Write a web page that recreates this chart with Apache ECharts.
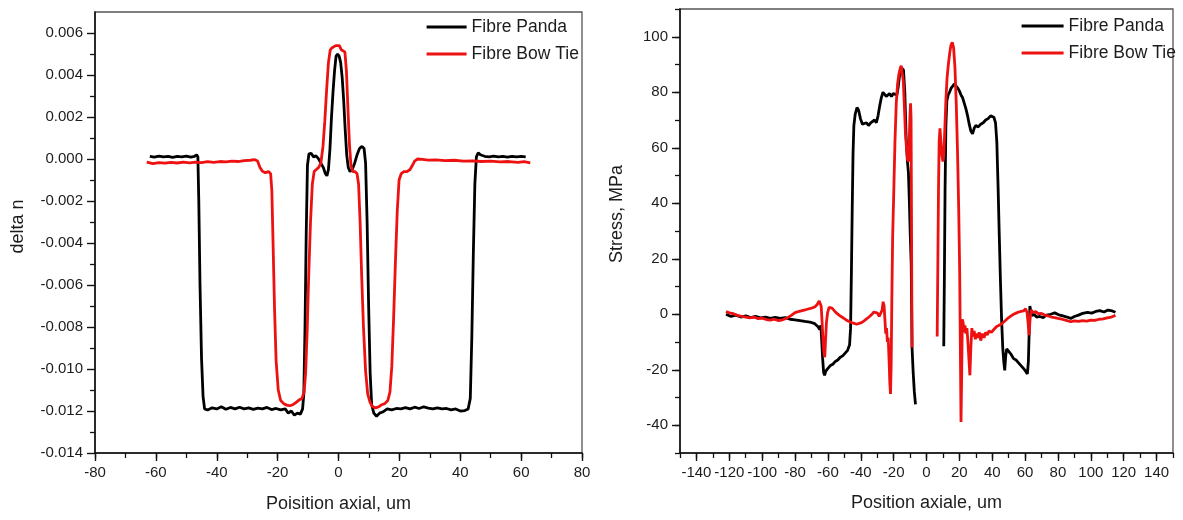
<!DOCTYPE html>
<html><head><meta charset="utf-8">
<script src="https://cdn.jsdelivr.net/npm/echarts@6/dist/echarts.min.js"></script>
<style>html,body{margin:0;padding:0;background:#fff}#c{width:1183px;height:520px}</style>
</head><body><div id="c"></div>
<script>
// ---------- Left chart: delta n vs axial position ----------
const leftXTicks = [-80,-60,-40,-20,0,20,40,60,80];
const leftYTicks = [-0.014,-0.012,-0.010,-0.008,-0.006,-0.004,-0.002,0.000,0.002,0.004,0.006];
const pandaDeltaN = [
[-62,0.00012],[-60.5,0.00009],[-59,0.00014],[-57.5,0.0001],[-56,0.00013],[-54.5,0.00008],[-53,0.00012],[-51.5,0.0001],[-50,0.00014],[-48.5,0.00009],[-47.3,0.00013],[-46.6,0.0002],[-46.2,0.0001],
[-45.9,-0.002],[-45.5,-0.006],[-45,-0.0095],[-44.5,-0.0113],[-44,-0.0119],[-43,-0.01195],
[-41.5,-0.01185],[-40,-0.0119],[-38.5,-0.0118],[-37,-0.01192],[-35.5,-0.01183],[-34,-0.0119],[-32.5,-0.01182],[-31,-0.0119],[-29.5,-0.01185],[-28,-0.01192],[-26.5,-0.01186],[-25,-0.0119],[-23.5,-0.01183],[-22,-0.01193],[-20.5,-0.01188],[-19,-0.01195],[-17.5,-0.0119],[-16.5,-0.0121],[-15.5,-0.012],[-14.5,-0.0122],[-13.5,-0.0121],[-12.5,-0.01215],[-11.8,-0.0119],
[-11.4,-0.0112],[-11,-0.008],[-10.6,-0.0035],[-10.2,-0.0003],[-9.7,0.00025],[-9,0.00027],[-8.2,0.0001],[-7.4,0.00015],[-6.6,0.00002],[-5.8,-0.0002],[-5,-0.0004],[-4.3,-0.0007],[-3.8,-0.0008],[-3.3,-0.0005],[-2.8,0.0005],[-2.3,0.002],[-1.8,0.0032],[-1.3,0.0042],[-0.8,0.0049],[-0.3,0.0050],[0.2,0.0049],[0.7,0.0046],[1.2,0.0039],[1.7,0.0028],[2.2,0.0014],[2.7,0.0002],[3.2,-0.0004],[3.8,-0.0006],[4.5,-0.0005],[5.3,-0.0002],[6.1,0.0002],[6.9,0.0005],[7.7,0.0006],[8.4,0.0005],[8.9,-0.0002],[9.4,-0.003],[9.9,-0.007],[10.4,-0.0102],[10.9,-0.0117],[11.6,-0.0121],[12.5,-0.01225],[13.5,-0.0121],[14.5,-0.01205],[16,-0.0119],[17.5,-0.01195],[19,-0.01188],[20.5,-0.0119],[22,-0.01184],[23.5,-0.0119],[25,-0.01182],[26.5,-0.01188],[28,-0.0118],[29.5,-0.01186],[31,-0.0119],[32.5,-0.01185],[34,-0.0119],[35.5,-0.01188],[37,-0.01195],[38.5,-0.0119],[40,-0.012],[41.5,-0.01198],[42.6,-0.0119],
[43.3,-0.0114],[43.8,-0.0085],[44.3,-0.0045],[44.8,-0.0012],[45.3,0.0001],[45.9,0.0003],[46.6,0.0002],[48,0.00013],[49.5,0.0001],[51,0.00014],[52.5,0.0001],[54,0.00012],[55.5,0.00009],[57,0.00013],[58.5,0.0001],[60,0.00012],[61.5,0.0001]
];
const bowtieDeltaN = [
[-63,-0.00015],[-61,-0.00022],[-59,-0.00017],[-57,-0.0002],[-55,-0.00016],[-53,-0.00019],[-51,-0.00015],[-49,-0.00018],[-47,-0.00015],[-45,-0.00017],[-43,-0.00013],[-41,-0.00016],[-39,-0.00012],[-37,-0.00014],[-35,-0.0001],[-33,-0.00012],[-31,-0.00008],[-29,-0.00006],[-27.5,-0.00003],[-26.6,-0.0001],[-25.8,-0.0004],[-25,-0.00058],[-24,-0.00065],[-23,-0.0006],[-22.3,-0.0007],
[-21.9,-0.0015],[-21.5,-0.004],[-21,-0.0072],[-20.5,-0.0096],[-19.8,-0.011],[-19,-0.0115],[-18,-0.01165],[-17,-0.01172],[-16,-0.01175],[-15,-0.0117],[-14,-0.0116],[-13,-0.01148],[-12,-0.0114],[-11.3,-0.0111],[-10.8,-0.0102],[-10.3,-0.0082],[-9.8,-0.0056],[-9.2,-0.003],[-8.6,-0.0012],[-8,-0.0006],[-7.3,-0.0005],[-6.5,-0.0004],[-5.8,-0.0002],[-5.1,0.0006],[-4.5,0.0018],[-3.9,0.0033],[-3.3,0.0046],[-2.7,0.0052],[-2.1,0.0053],[-1.5,0.0053],[-0.9,0.0054],[-0.3,0.00535],[0.3,0.0054],[0.9,0.0052],[1.5,0.0052],[2.1,0.0051],[2.6,0.0042],[3.1,0.0024],[3.6,0.0007],[4.1,-0.0003],[4.7,-0.0006],[5.4,-0.0006],[6.1,-0.0007],
[6.6,-0.0012],[7.1,-0.003],[7.6,-0.0055],[8.2,-0.008],[8.9,-0.0101],[9.6,-0.0112],[10.4,-0.0116],[11.2,-0.0118],[12.2,-0.01185],[13.2,-0.0118],[14.2,-0.0117],[15.2,-0.01165],[16.2,-0.0115],[16.9,-0.0111],[17.5,-0.0099],[18.1,-0.0076],[18.7,-0.0049],[19.3,-0.0025],[19.9,-0.001],[20.6,-0.0007],[21.5,-0.0006],[22.5,-0.0006],[23.5,-0.0005],[24.3,-0.0003],[25,-0.0001],[26,0.0],[27.5,-0.00002],[29.5,-0.00005],[32,-0.00004],[35,-0.00008],[38,-0.00006],[41,-0.0001],[44,-0.00009],[47,-0.00012],[50,-0.0001],[53,-0.00014],[56,-0.00012],[59,-0.00016],[61,-0.00013],[63,-0.00018]
];

// ---------- Right chart: stress vs axial position ----------
const rightXTicks = [-140,-120,-100,-80,-60,-40,-20,0,20,40,60,80,100,120,140];
const rightYTicks = [-40,-20,0,20,40,60,80,100];
const pandaStressLeft = [
[-122,0],[-119,-0.8],[-116,-0.3],[-113,-1],[-110,-0.6],[-107,-1.2],[-104,-0.8],[-101,-1.3],[-98,-1],[-95,-1.5],[-92,-1.1],[-89,-1.5],[-86,-1.2],[-83,-1.8],[-80,-2],[-77,-2.3],[-74,-2.6],[-71,-2.8],[-68,-3.4],[-66,-4.5],[-65,-5.5],[-64.3,-4],[-63.8,-9],[-63.2,-16],[-62.6,-21],[-62,-22],[-61.3,-20.5],[-60,-19.5],[-58.5,-18.5],[-57,-18],[-55.5,-17],[-54,-16.5],[-52.5,-15.5],[-51,-15],[-49.5,-14],[-48,-13],[-46.8,-11],
[-46.2,-5],[-45.7,15],[-45.2,38],[-44.7,58],[-44.2,68],[-43.4,72],[-42.3,74.5],[-41.3,73.5],[-40.2,70.5],[-39,68.5],[-37.8,68],[-36.5,69],[-35.3,68],[-34,69],[-32.8,68.5],[-31.6,70],[-30.5,69],[-29.5,71.5],[-28.5,75],[-27.5,78],[-26.5,80],[-25.5,79.5],[-24.5,78.5],[-23.5,79],[-22.5,79.5],[-21.3,78.5],[-20.2,79.5],[-19,80],[-18,79],[-17.2,82],[-16.4,86],[-15.6,89],[-14.8,89.5],[-14,88],[-13.2,80],[-12.4,64],[-11.6,55],[-11,51],[-10.4,40],[-9.9,29],[-9.3,18],[-8.8,-12],[-8.1,-21],[-7.4,-28],[-6.7,-32.5]
];
const pandaStressRight = [
[10.5,-11.5],[10.9,15],[11.3,45],[11.8,68],[12.4,77],[13.2,79],[14,80],[15,81.5],[16,82],[17,83],[18,82.5],[19,81.5],[20,80.5],[21,79],[22,78],[23,76],[24,74],[25,71.5],[26,68.5],[27,66],[28,65],[29,67],[30,68],[31.5,67.5],[33,68.5],[34.5,69],[36,70],[37.5,70.5],[39,71.5],[40,72],[41,71],[42,69],[42.8,62],[43.6,45],[44.3,28],[45,12],[45.7,-2],[46.4,-12],[47,-17],[47.6,-20.2],[48.2,-15],[48.8,-12.5],[50,-13],[51.5,-14.5],[53,-16],[54.5,-16.5],[56,-17.5],[57.5,-18.5],[59,-19.5],[60.3,-20.5],[61.4,-21.5],[62,-17],[62.5,-6],[62.9,3],[63.5,1],[64.2,-0.5],[65.5,0],[67,-1],[69,-0.8],[71,-1.2],[73,-0.3],[75.6,0],[78,0.5],[80.5,-0.2],[83,-0.6],[85.5,-1],[87.8,-1.5],[90,-0.8],[92.5,-0.3],[95,0.3],[98,0.7],[100.5,0.4],[103,1],[105.5,1.3],[108,0.8],[110.5,1.5],[113,1.2],[115,0.7]
];
const bowtieStressLeft = [
[-122,1],[-120,0.5],[-117.5,0.2],[-115,-0.4],[-112.5,-0.8],[-110,-1],[-107.5,-1.3],[-105,-1],[-102.5,-1.6],[-100,-1.4],[-97.5,-1.9],[-95,-2.1],[-92.5,-1.8],[-90,-2.3],[-87.5,-2],[-85,-1.4],[-82.5,-0.5],[-80,0.6],[-77.5,1],[-75,1.4],[-72.5,1.8],[-70,2.2],[-68,2.6],[-66.5,3.5],[-65.3,4.8],[-64.6,5.4],[-64.1,3],[-63.6,-2],[-63.1,-8],[-62.5,-13.5],[-61.9,-15.5],[-61.4,-9],[-60.9,-3],[-60.2,0.5],[-59.3,2.5],[-58.5,3],[-57.5,2.2],[-56,1.2],[-54.5,0.3],[-53,-0.4],[-51.5,-1],[-50,-1.6],[-48.5,-2.2],[-47,-2.6],[-45.5,-3],[-44,-3.3],[-42.5,-3.6],[-41,-3.3],[-39.5,-3],[-38,-2.4],[-36.5,-1.7],[-35,-1],[-33.5,-0.2],[-32,0.8],[-30.8,1.2],[-29.8,0.4],[-28.8,-0.8],[-27.8,-0.3],[-27,1.5],[-26.4,4.5],[-25.8,3],[-25.3,-2],[-24.8,-7],[-24.3,-5],[-23.8,-10],[-23.3,-8.5],[-22.8,-16],[-22.3,-25],[-21.9,-28.7],[-21.5,-18],[-21.1,5],[-20.6,28],[-20,42],[-19.2,62],[-18.4,76],[-17.6,83],[-16.8,86.5],[-16,88.5],[-15.4,89.6],[-14.8,89],[-14.1,84],[-13.4,74],[-12.8,65],[-12.2,60],[-11.6,56],[-11,55],[-10.5,62],[-10.1,71],[-9.7,76],[-9.4,71],[-9.2,45],[-9,15],[-8.8,-12]
];
const bowtieStressRight = [
[6.5,-8],[6.9,18],[7.3,45],[7.7,62],[8.2,67],[8.8,62],[9.4,57],[10,55],[10.5,57],[11.1,66],[11.8,77],[12.5,85],[13.3,90],[14.1,94],[14.9,97],[15.7,98],[16.5,96],[17.3,89],[18.1,76],[18.9,58],[19.6,38],[20.2,15],[20.6,-12],[21,-38.8],[21.4,-22],[21.8,-1.8],[22.3,-3],[22.8,-6.5],[23.4,-4],[24,-7],[24.6,-5],[25.2,-10],[25.8,-16],[26.4,-22],[27,-12],[27.6,-5],[28.3,-8],[29,-6],[29.7,-9],[30.5,-7],[31.3,-8.5],[32.1,-6.5],[33,-9.5],[34,-7],[35,-8.5],[36,-6.5],[37,-7.5],[38,-6],[39.5,-6.5],[41,-5.5],[42.5,-4.5],[44,-4],[45.5,-3.6],[47,-2.8],[48.5,-2],[50,-1.2],[51.5,-0.6],[53,0],[54.5,0.4],[56,0.8],[57.5,1],[59,1.2],[60.3,2],[61.2,0.5],[61.8,-3],[62.4,-7.5],[63,-2],[63.6,1.5],[64.3,2],[65.2,0.5],[66.5,1],[68,0.2],[70,0.3],[72,-0.3],[74,-0.6],[76,-1],[78,-1.2],[80,-1.5],[82.5,-1.8],[85,-2.2],[87.8,-2.7],[90,-2.4],[92.5,-2.6],[95,-2.3],[97.5,-2.5],[100,-2.1],[102.5,-2.2],[105,-1.8],[107.5,-1.7],[110,-1.3],[112.5,-1],[115,-0.4]
];

const BLACK = '#000000', RED = '#ee1111';
const FONT = 'Liberation Sans';
const txt = '#1c1c1c';
const chart = echarts.init(document.getElementById('c'), null, {renderer:'canvas'});

// minor tick positions for the left y axis (odd thousandths, none at the top corner)
const leftYMinor = [];
for (let k = -13; k <= 5; k += 2) leftYMinor.push(k / 1000);

function mainAxis(gridIndex, min, max, step, ticks, fmt, extra) {
  return Object.assign({
    type: 'value', gridIndex, min, max, interval: step,
    axisLine: {show: true, onZero: false, lineStyle: {color: '#111', width: 1.6}},
    axisTick: {show: true, inside: false, length: 8, customValues: ticks, lineStyle: {color: '#111', width: 1.4}},
    axisLabel: {show: true, customValues: ticks, formatter: fmt, fontFamily: FONT, fontSize: 15, color: txt, margin: 12},
    splitLine: {show: false},
    nameLocation: 'middle',
    nameTextStyle: {fontFamily: FONT, fontSize: 18, color: txt}
  }, extra || {});
}
function minorAxis(gridIndex, min, max, step, position, custom) {
  const tick = {show: true, inside: false, length: 5, lineStyle: {color: '#111', width: 1.3}};
  if (custom) tick.customValues = custom;
  return {
    type: 'value', gridIndex, min, max, interval: step, position,
    axisLine: {show: false, onZero: false},
    axisTick: tick,
    axisLabel: {show: false}, splitLine: {show: false}
  };
}
const fmtInt = v => String(Math.round(v));
const fmt3 = v => (Math.abs(v) < 1e-9 ? 0 : v).toFixed(3);

const lineSeries = (name, color, xi, yi, data, z) => ({
  type: 'line', name, data, xAxisIndex: xi, yAxisIndex: yi,
  showSymbol: false, symbol: 'none', smooth: false, z,
  lineStyle: {color, width: 2.8}, itemStyle: {color}, emphasis: {disabled: true}
});

const legendBase = {
  orient: 'vertical', padding: 0, itemHeight: 18, itemGap: 9,
  data: ['Fibre Panda', 'Fibre Bow Tie'],
  textStyle: {fontFamily: FONT, fontSize: 17.5, color: txt},
  lineStyle: {width: 3.2}, itemStyle: {opacity: 0, borderWidth: 0}
};

chart.setOption({
  animation: false,
  backgroundColor: '#fff',
  grid: [
    {left: 95, top: 12, width: 487, height: 441, show: true, borderColor: '#555', borderWidth: 1.3, backgroundColor: 'transparent'},
    {left: 680, top: 9, width: 493, height: 444, show: true, borderColor: '#555', borderWidth: 1.3, backgroundColor: 'transparent'}
  ],
  legend: [
    Object.assign({}, legendBase, {left: 425, top: 18, itemWidth: 40}),
    Object.assign({}, legendBase, {left: 1020, top: 17, itemWidth: 42})
  ],
  xAxis: [
    mainAxis(0, -80, 80, 10, leftXTicks, fmtInt, {position: 'bottom', name: 'Poisition axial, um', nameGap: 42}),
    minorAxis(0, -80, 80, 10, 'bottom'),
    mainAxis(1, -150, 150, 10, rightXTicks, fmtInt, {position: 'bottom', name: 'Position axiale, um', nameGap: 41}),
    minorAxis(1, -150, 150, 10, 'bottom')
  ],
  yAxis: [
    mainAxis(0, -0.014, 0.007, 0.001, leftYTicks, fmt3, {position: 'left', name: 'delta n', nameGap: 68,
      nameTextStyle: {fontFamily: FONT, fontSize: 18, color: txt, padding: [0, 0, 0, 12]}}),
    minorAxis(0, -0.014, 0.007, 0.001, 'left', leftYMinor),
    mainAxis(1, -50, 110, 10, rightYTicks, fmtInt, {position: 'left', name: 'Stress, MPa', nameGap: 54,
      nameTextStyle: {fontFamily: FONT, fontSize: 18, color: txt, padding: [0, 0, 0, 34]}}),
    minorAxis(1, -50, 110, 10, 'left')
  ],
  series: [
    lineSeries('Fibre Panda', BLACK, 0, 0, pandaDeltaN, 2),
    lineSeries('Fibre Bow Tie', RED, 0, 0, bowtieDeltaN, 3),
    lineSeries('Fibre Panda', BLACK, 2, 2, pandaStressLeft, 2),
    lineSeries('Fibre Panda', BLACK, 2, 2, pandaStressRight, 2),
    lineSeries('Fibre Bow Tie', RED, 2, 2, bowtieStressLeft, 3),
    lineSeries('Fibre Bow Tie', RED, 2, 2, bowtieStressRight, 3)
  ]
});
</script></body></html>
